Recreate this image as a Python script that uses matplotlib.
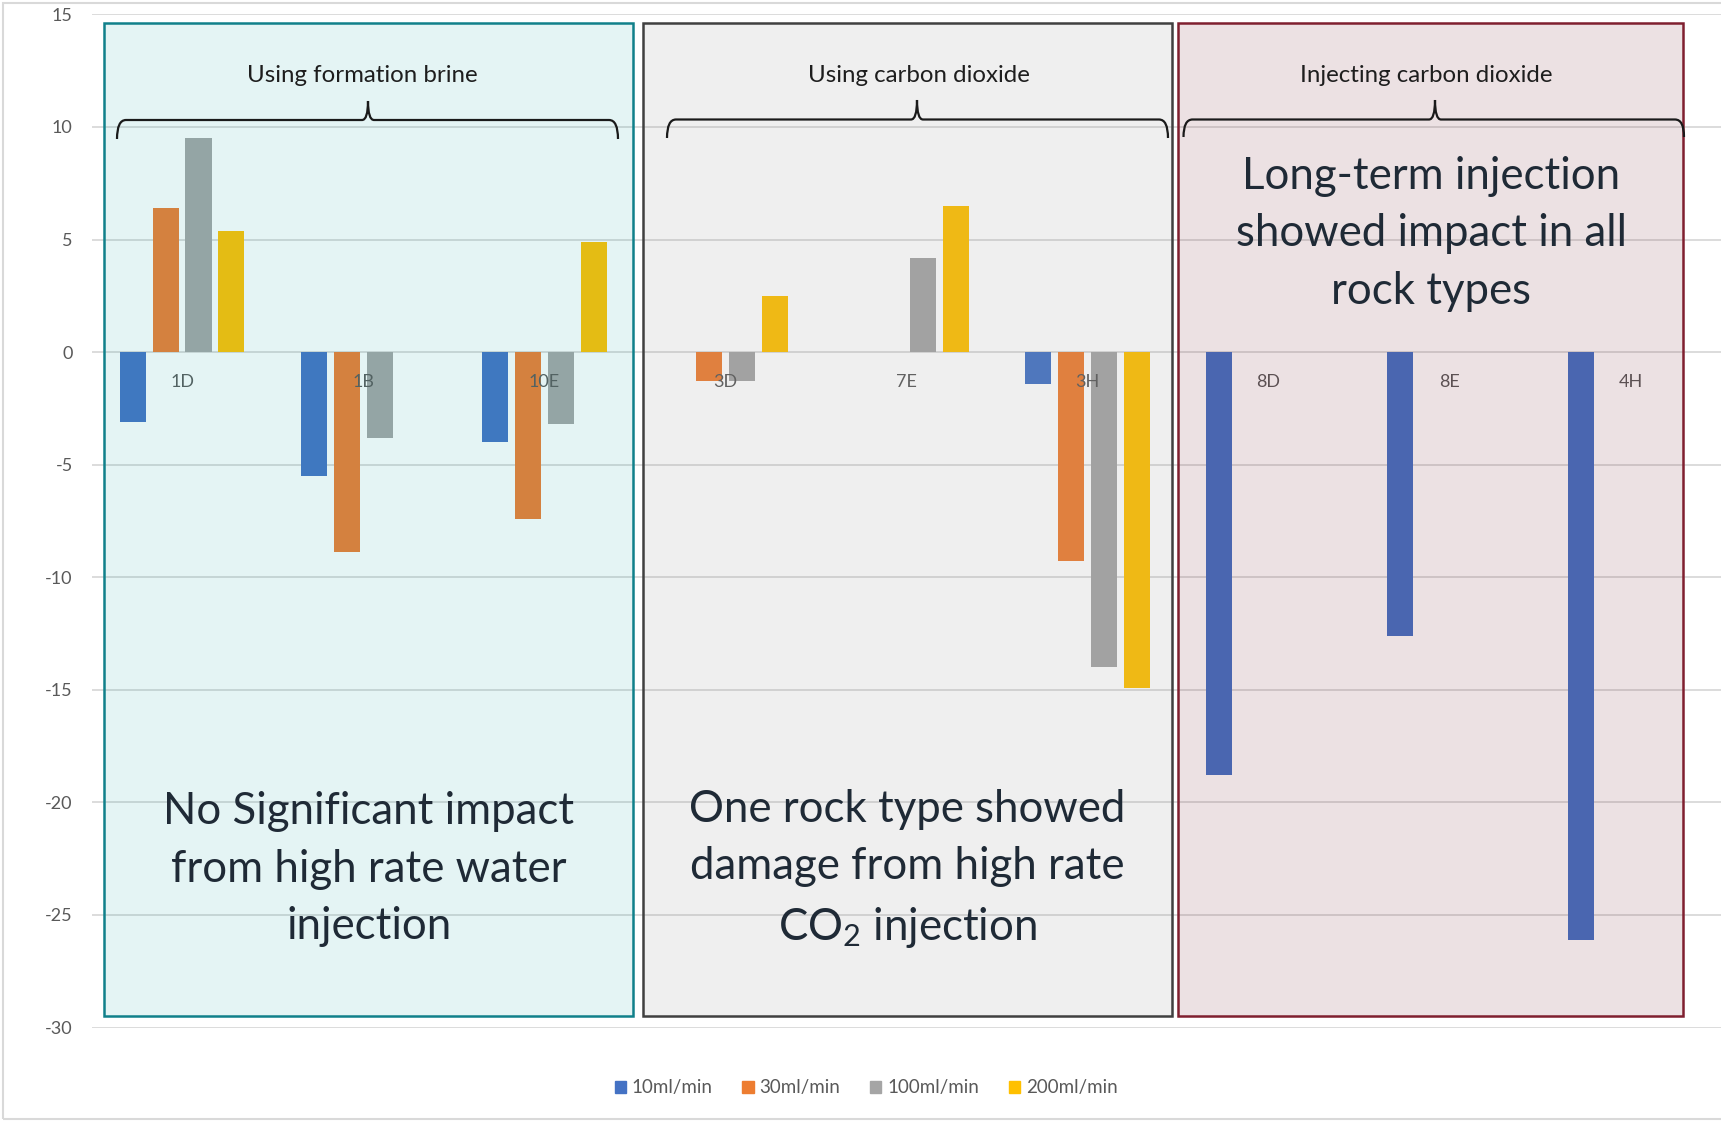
import numpy as np
import matplotlib
matplotlib.use("Agg")
import matplotlib.pyplot as plt
from matplotlib.patches import Rectangle, Patch, PathPatch
from matplotlib.path import Path

plt.rcParams['font.family'] = ['Lato', 'DejaVu Sans']
plt.rcParams['mathtext.fontset'] = 'custom'
plt.rcParams['mathtext.rm'] = 'Lato'
plt.rcParams['axes.unicode_minus'] = False

# permeability change per core, one list per injection rate
cores = ["1D", "1B", "10E", "3D", "7E", "3H", "8D", "8E", "4H"]
rate_labels = ["10ml/min", "30ml/min", "100ml/min", "200ml/min"]
change_10 = [-3.1, -5.5, -4.0, 0.0, 0.0, -1.4, -18.8, -12.6, -26.1]
change_30 = [6.4, -8.9, -7.4, -1.3, 0.0, -9.3, 0.0, 0.0, 0.0]
change_100 = [9.5, -3.8, -3.2, -1.3, 4.2, -14.0, 0.0, 0.0, 0.0]
change_200 = [5.4, 0.0, 4.9, 2.5, 6.5, -14.9, 0.0, 0.0, 0.0]
y_ticks = [-30, -25, -20, -15, -10, -5, 0, 5, 10, 15]

bar_colors = ["#4472C4", "#ED7D31", "#A5A5A5", "#FFC000"]
label_grey = "#595959"
note_color = "#1F2A36"

W, H = 1721, 1121
fig = plt.figure(figsize=(W / 100, H / 100), dpi=100)
fig.patch.set_facecolor("white")


def fpt(x, y):
    # pixel position (origin top-left) -> figure fraction
    return x / W, 1 - y / H


ax = fig.add_axes([91.5 / W, 1 - 1027.5 / H, (W - 91.5) / W, (1027.5 - 14.4) / H])

x = np.arange(len(cores))
step, width = 0.182, 0.144
for k, (vals, color, lab) in enumerate(zip([change_10, change_30, change_100, change_200],
                                           bar_colors, rate_labels)):
    ax.bar(x + (k - 1.5) * step, vals, width, color=color, label=lab, linewidth=0, zorder=2)

for xi, name in zip(x, cores):
    ax.annotate(name, (xi, 0), xytext=(0, -30), textcoords='offset pixels',
                ha='center', va='center', fontsize=13, color=label_grey, zorder=3)

ax.set_xlim(-0.5, len(cores) - 0.5)
ax.set_ylim(-30, 15)
ax.set_yticks(y_ticks)
ax.set_xticks([])
ax.tick_params(axis='y', length=0, pad=13.5, labelsize=13, labelcolor=label_grey)
ax.yaxis.grid(True, color='#D9D9D9', linewidth=1.3)
ax.set_axisbelow(True)
for sp in ax.spines.values():
    sp.set_visible(False)
ax.patch.set_alpha(0)

# light frame around the chart area
fig.patches.append(Rectangle(fpt(3, 1119), (W + 20) / W, 1116 / H, transform=fig.transFigure,
                             fill=False, edgecolor='#D9D9D9', linewidth=1.5, zorder=0))

# tinted panels laid over the three test groups
panels = [
    ((104, 23, 633, 1016), (0.13, 0.65, 0.65, 0.12), '#10808A'),
    ((643, 23, 1172, 1016), (0.59, 0.59, 0.59, 0.145), '#404040'),
    ((1178, 23, 1683, 1016), (0.45, 0.11, 0.18, 0.128), '#7F1F2F'),
]
for (x0, y0, x1, y1), fc, ec in panels:
    fig.patches.append(Rectangle(fpt(x0, y1), (x1 - x0) / W, (y1 - y0) / H,
                                 transform=fig.transFigure, facecolor=fc,
                                 edgecolor=ec, linewidth=1.8, zorder=5))


def brace(x0, x1, xm, yl, yb, yt, r=9, rs=6):
    pts = [(x0, yb), (x0, yl), (x0 + r, yl),
           (xm - rs, yl), (xm, yl), (xm, yt),
           (xm, yl), (xm + rs, yl),
           (x1 - r, yl), (x1, yl), (x1, yb)]
    codes = [Path.MOVETO, Path.CURVE3, Path.CURVE3,
             Path.LINETO, Path.CURVE3, Path.CURVE3,
             Path.CURVE3, Path.CURVE3,
             Path.LINETO, Path.CURVE3, Path.CURVE3]
    verts = [fpt(px, py) for px, py in pts]
    fig.patches.append(PathPatch(Path(verts, codes), transform=fig.transFigure,
                                 fill=False, edgecolor='#1A1A1A', linewidth=1.6, zorder=6))


brace(117, 618, 368, 120, 139, 101)
brace(667, 1168, 917, 119.5, 138, 100)
brace(1183.5, 1684, 1435, 119.5, 137, 100)

group_titles = [("Using formation brine", 362, 75),
                ("Using carbon dioxide", 919, 76),
                ("Injecting carbon dioxide", 1426, 75)]
for txt, px, py in group_titles:
    fig.text(*fpt(px, py), txt, ha='center', va='center', fontsize=17.3,
             color='#1E1E1E', zorder=7)

notes = [("No Significant impact\nfrom high rate water\ninjection", 369, 869),
         ("One rock type showed\ndamage from high rate\nCO$\\mathregular{_2}$ injection", 907, 869),
         ("Long-term injection\nshowed impact in all\nrock types", 1431, 234)]
for txt, px, py in notes:
    fig.text(*fpt(px, py), txt, ha='center', va='center', fontsize=31.5,
             color=note_color, linespacing=1.5, zorder=7)

handles = [Patch(color=c, label=l) for c, l in zip(bar_colors, rate_labels)]
fig.legend(handles=handles, loc='center', bbox_to_anchor=fpt(866, 1088), ncol=4,
           frameon=False, fontsize=13.5, handlelength=0.6, handleheight=0.6,
           handletextpad=0.3, columnspacing=1.6, labelcolor=label_grey)

fig.savefig("out.png", dpi=100)
